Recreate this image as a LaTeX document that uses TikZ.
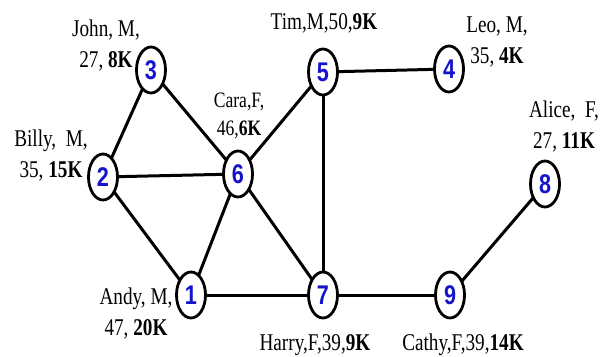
\documentclass[tikz,border=0pt]{standalone}
\usepackage{fontspec}
\setmainfont{Liberation Serif}
\newfontfamily\lblfont[FakeStretch=0.8]{Liberation Serif}
\newfontfamily\numfont[FakeStretch=0.8]{Liberation Sans}
\usetikzlibrary{shapes.geometric}
\definecolor{numblue}{RGB}{20,20,205}
\tikzset{
  vert/.style={draw=black, line width=2.8pt, ellipse, fill=white,
    minimum width=29pt, minimum height=46pt, inner sep=0pt,
    font=\numfont\fontsize{27}{27}\selectfont\bfseries, text=numblue},
  info/.style={align=center, inner sep=0pt,
    font=\lblfont\fontsize{24}{31}\selectfont},
  link/.style={line width=3pt, black, shorten <=-1pt, shorten >=-1pt}
}
\begin{document}
\begin{tikzpicture}[x=1pt,y=-1pt]
\useasboundingbox (0,0) rectangle (612,356);
% vertices
\node[vert] (n1) at (191,295) {1};
\node[vert] (n2) at (103,177) {2};
\node[vert] (n3) at (151,70)  {3};
\node[vert] (n4) at (449,69)  {4};
\node[vert] (n5) at (323,72)  {5};
\node[vert] (n6) at (238,174) {6};
\node[vert] (n7) at (323,295) {7};
\node[vert] (n8) at (545,184) {8};
\node[vert] (n9) at (450,295) {9};
% edges
\draw[link] (n3) -- (n2);
\draw[link] (n3) -- (n6);
\draw[link] (n2) -- (n6);
\draw[link] (n2) -- (n1);
\draw[link] (n6) -- (n1);
\draw[link] (n6) -- (n5);
\draw[link] (n6) -- (n7);
\draw[link] (n5) -- (n4);
\draw[link] (n5) -- (n7);
\draw[link] (n1) -- (n7);
\draw[link] (n7) -- (n9);
\draw[link] (n9) -- (n8);
% labels (anchored at the baseline of the last line)
\node[info, anchor=base] (l3) at (106,67) {John, M,\\27, \textbf{8K}};
\node[info, anchor=base] (l5) at (324,29) {Tim,M,50,\textbf{9K}};
\node[info, anchor=base] (l4) at (497,63) {Leo, M,\\35, \textbf{4K}};
\node[info, anchor=base] (l8) at (564,148) {Alice,\ \ F,\\27, \textbf{11K}};
\node[info, anchor=base] (l2) at (51,177) {Billy,\ \ M,\\35, \textbf{15K}};
\node[info, anchor=base, font=\lblfont\fontsize{22}{28}\selectfont] (l6) at (239,135) {Cara,F,\\46,\textbf{6K}};
\node[info, anchor=base] (l1) at (136,335) {Andy, M,\\47, \textbf{20K}};
\node[info, anchor=base] (l7) at (315,350) {Harry,F,39,\textbf{9K}};
\node[info, anchor=base] (l9) at (463,350) {Cathy,F,39,\textbf{14K}};
\end{tikzpicture}
\end{document}
